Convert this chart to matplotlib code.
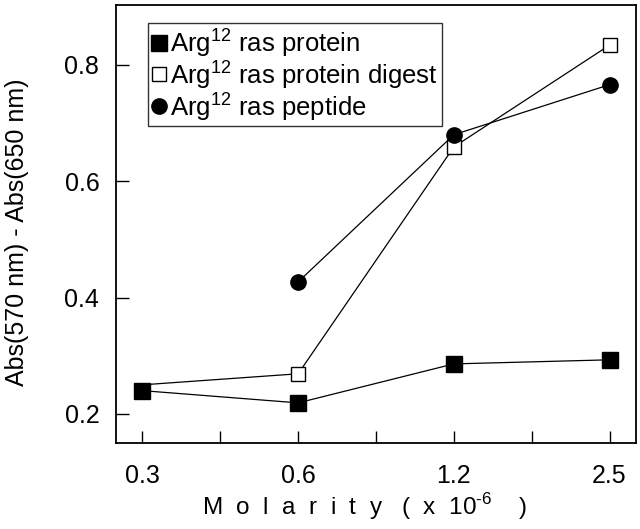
import matplotlib

matplotlib.use("Agg")
import matplotlib.pyplot as plt
from matplotlib.lines import Line2D

plt.rcParams["font.family"] = ["Liberation Sans", "DejaVu Sans"]
plt.rcParams["mathtext.fontset"] = "custom"
plt.rcParams["mathtext.rm"] = "Liberation Sans"

# Molarity levels (x 10^-6), plotted as evenly spaced categories
molarity = ["0.3", "0.6", "1.2", "2.5"]

# Abs(570 nm) - Abs(650 nm)
protein = [0.240, 0.219, 0.286, 0.293]
digest = [0.250, 0.269, 0.659, 0.834]
peptide_x = ["0.6", "1.2", "2.5"]
peptide = [0.427, 0.680, 0.766]

pos = {m: i for i, m in enumerate(molarity)}

fig = plt.figure(figsize=(6.4, 5.29), dpi=100)
ax = fig.add_axes([116 / 640, 86 / 529, 520 / 640, 438 / 529])

# digest starts at the protein point, its first marker is hidden there
ax.plot([pos[m] for m in molarity], digest, color="black", lw=0.9,
        marker="s", ms=9.5, mfc="white", mec="black", mew=1.0,
        markevery=[1, 2, 3], zorder=2)
ax.plot([pos[m] for m in molarity], protein, color="black", lw=0.9,
        marker="s", ms=11.5, mfc="black", mec="black", zorder=3)
ax.plot([pos[m] for m in peptide_x], peptide, color="black", lw=0.9,
        marker="o", ms=11, mfc="black", mec="black", zorder=3)

ax.set_xlim(-0.17, 3.17)
ax.set_ylim(0.15, 0.903)
ax.set_xticks(range(len(molarity)))
ax.set_xticklabels(molarity)
ax.set_xticks([0.5, 1.5, 2.5], minor=True)
ax.set_yticks([0.2, 0.4, 0.6, 0.8])
ax.set_yticklabels(["0.2", "0.4", "0.6", "0.8"])

ax.tick_params(axis="both", which="both", direction="in", length=9, width=1.0,
               labelsize=18)
ax.tick_params(axis="x", which="both", pad=15)
ax.tick_params(axis="y", pad=12)
for sp in ax.spines.values():
    sp.set_linewidth(1.3)

ax.set_xlabel(r"M  o  l  a  r  i  t  y   (  x  10$^{\text{-}6}$    )", fontsize=17.5)
ax.xaxis.set_label_coords(0.477, -0.11)
ax.set_ylabel("Abs(570 nm) - Abs(650 nm)", fontsize=18)
ax.yaxis.set_label_coords(-0.168, 0.482)

handles = [
    Line2D([], [], ls="none", marker="s", ms=11, mfc="black", mec="black"),
    Line2D([], [], ls="none", marker="s", ms=10, mfc="white", mec="black"),
    Line2D([], [], ls="none", marker="o", ms=11, mfc="black", mec="black"),
]
labels = ["Arg$^{12}$ ras protein", "Arg$^{12}$ ras protein digest",
          "Arg$^{12}$ ras peptide"]
leg = ax.legend(handles, labels, loc="upper left", bbox_to_anchor=(0.062, 0.96),
                fontsize=18.5, frameon=True, fancybox=False, edgecolor="black",
                handlelength=0.5, handletextpad=0.2, borderpad=0.15,
                labelspacing=-0.05, borderaxespad=0)
leg.get_frame().set_linewidth(1.0)

fig.savefig("out.png", dpi=100)
